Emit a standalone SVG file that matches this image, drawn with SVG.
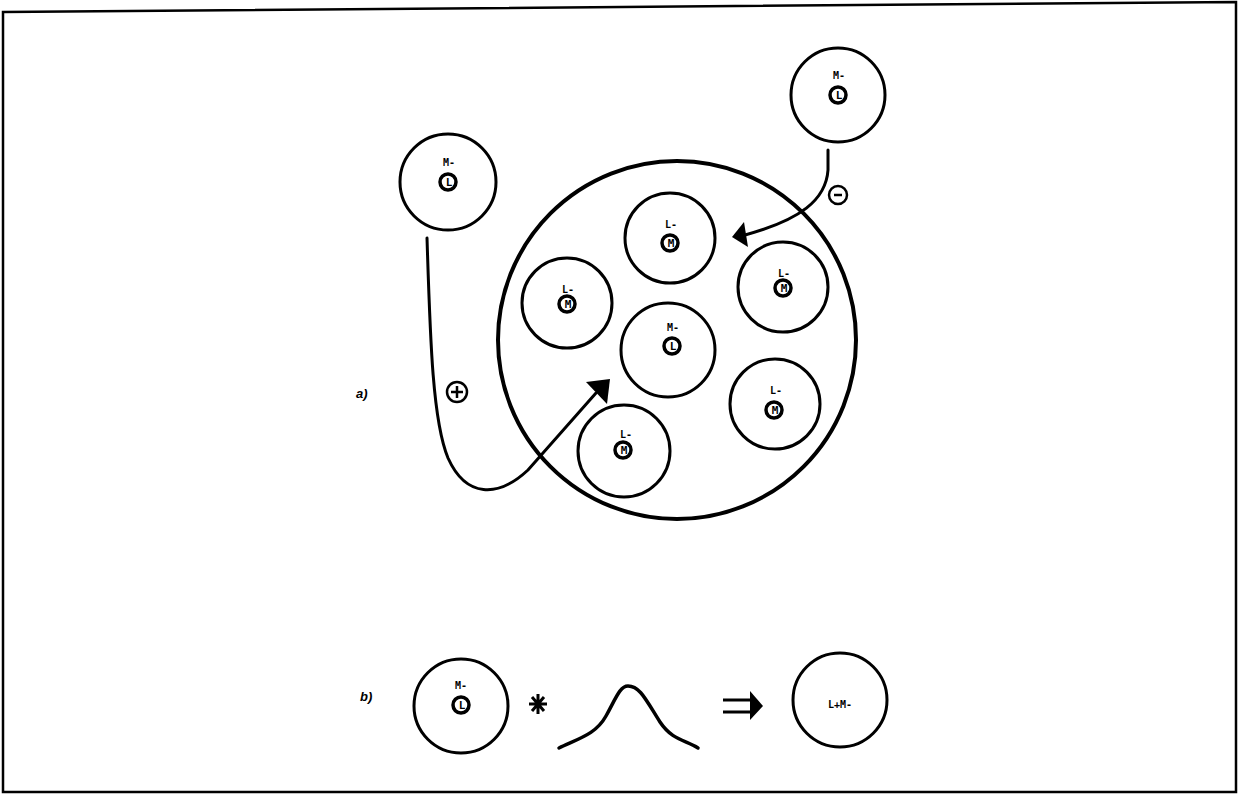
<svg xmlns="http://www.w3.org/2000/svg" width="1241" height="795" viewBox="0 0 1241 795">
<style>
.c{fill:none;stroke:#000;stroke-width:3}
.ci{fill:none;stroke:#000;stroke-width:3.5}
.big{fill:none;stroke:#000;stroke-width:4}
.t{font-family:"DejaVu Sans Mono","Liberation Mono",monospace;font-weight:bold;font-size:10px;text-anchor:middle;fill:#000}
.ti{font-family:"DejaVu Sans Mono","Liberation Mono",monospace;font-weight:bold;font-size:11px;text-anchor:middle;fill:#000}
.lab{font-family:"Liberation Sans",Arial,sans-serif;font-weight:bold;font-style:italic;font-size:13px;fill:#000}
.w{fill:none;stroke:#000;stroke-width:3;stroke-linecap:round}
</style>
<rect width="1241" height="795" fill="#fff"/>
<polygon points="3,12 1236,2 1236,792 3,792" fill="none" stroke="#000" stroke-width="2.5"/>

<g id="connectors">
<path class="w" d="M427,238 C430,330 432,420 448,458 C466,498 498,498 528,470 L596,393"/>
<polygon points="610,379 586,382 607,404" fill="#000"/>
<path class="w" d="M828,150 L828,170 C826,200 800,220 745,235"/>
<polygon points="732,237 744,222 748,247" fill="#000"/>
</g>

<g id="big-circle"><circle class="big" cx="677" cy="340" r="179"/></g>

<g id="n-left-top">
<circle class="c" cx="448" cy="182" r="48"/>
<text class="t" x="449" y="166">M-</text>
<circle class="ci" cx="448" cy="182" r="8"/>
<text class="ti" x="449" y="186">L</text>
</g>
<g id="n-right-top">
<circle class="c" cx="838" cy="95" r="47"/>
<text class="t" x="839" y="79">M-</text>
<circle class="ci" cx="838" cy="95" r="8"/>
<text class="ti" x="839" y="99">L</text>
</g>

<g id="n-in-top">
<circle class="c" cx="670" cy="238" r="45"/>
<text class="t" x="671" y="228">L-</text>
<circle class="ci" cx="670" cy="243" r="8"/>
<text class="ti" x="671" y="247">M</text>
</g>
<g id="n-in-ur">
<circle class="c" cx="783" cy="287" r="45"/>
<text class="t" x="784" y="277">L-</text>
<circle class="ci" cx="783" cy="288" r="8"/>
<text class="ti" x="784" y="292">M</text>
</g>
<g id="n-in-left">
<circle class="c" cx="567" cy="303" r="45"/>
<text class="t" x="568" y="293">L-</text>
<circle class="ci" cx="567" cy="304" r="8"/>
<text class="ti" x="568" y="308">M</text>
</g>
<g id="n-in-center">
<circle class="c" cx="668" cy="350" r="47" stroke-width="4"/>
<text class="t" x="673" y="331">M-</text>
<circle class="ci" cx="672" cy="346" r="8"/>
<text class="ti" x="673" y="350">L</text>
</g>
<g id="n-in-lr">
<circle class="c" cx="775" cy="404" r="45"/>
<text class="t" x="776" y="394">L-</text>
<circle class="ci" cx="774" cy="410" r="8"/>
<text class="ti" x="775" y="414">M</text>
</g>
<g id="n-in-ll">
<circle class="c" cx="624" cy="451" r="46"/>
<text class="t" x="626" y="438">L-</text>
<circle class="ci" cx="623" cy="450" r="8"/>
<text class="ti" x="624" y="454">M</text>
</g>

<g id="plus">
<circle cx="457" cy="392" r="10" fill="#fff" stroke="#000" stroke-width="2.5"/>
<path d="M451,392 H463 M457,386 V398" stroke="#000" stroke-width="2.5"/>
</g>
<g id="minus">
<circle cx="838" cy="195" r="9" fill="#fff" stroke="#000" stroke-width="2.5"/>
<path d="M834,195 H842" stroke="#000" stroke-width="2.5"/>
</g>

<text class="lab" x="356" y="398">a)</text>
<text class="lab" x="360" y="701">b)</text>

<g id="b-m">
<circle class="c" cx="461" cy="706" r="47"/>
<text class="t" x="461" y="689">M-</text>
<circle class="ci" cx="461" cy="705" r="8"/>
<text class="ti" x="462" y="709">L</text>
</g>
<g id="star">
<path d="M538,694 V714 M529,704 H547 M532,697 L544,711 M544,697 L532,711" stroke="#000" stroke-width="3"/>
</g>
<path id="bell" d="M559,748 C580,738 596,734 606,716 C616,698 620,686 628,686 C640,686 646,700 660,722 C672,740 685,740 698,748" fill="none" stroke="#000" stroke-width="3.5" stroke-linecap="round"/>
<g id="implies">
<path d="M723,700 H752 M723,712 H752" stroke="#000" stroke-width="3"/>
<polygon points="750,691 763,706 750,720" fill="#000"/>
</g>
<g id="b-lm">
<circle class="c" cx="840" cy="700" r="47"/>
<text class="t" x="840" y="708">L+M-</text>
</g>
</svg>
